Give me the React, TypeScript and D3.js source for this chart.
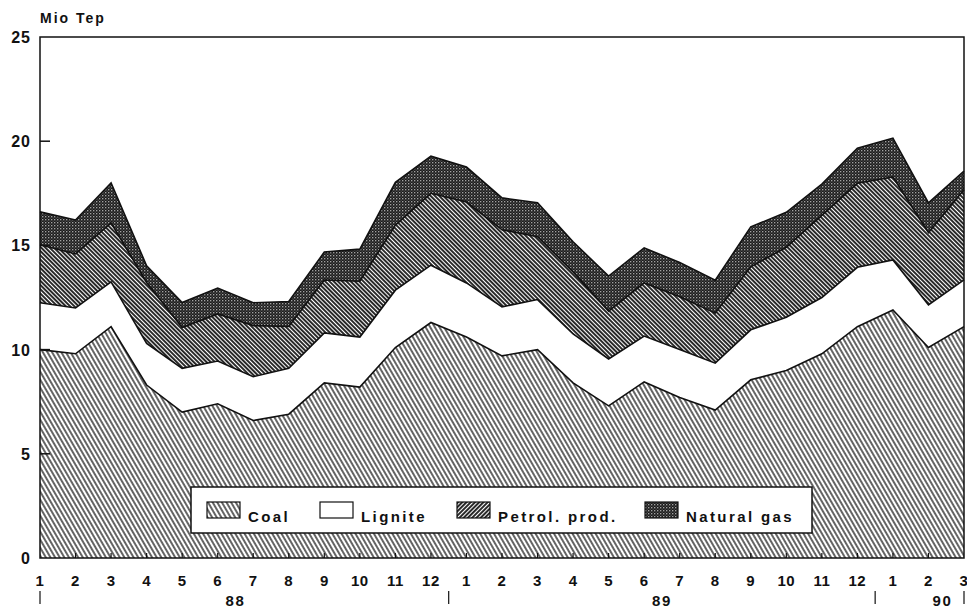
import React from "react";
import * as d3 from "d3";

const months = ["1","2","3","4","5","6","7","8","9","10","11","12","1","2","3","4","5","6","7","8","9","10","11","12","1","2","3"];
const years = [{ label: "88", from: 0, to: 11 }, { label: "89", from: 12, to: 23 }, { label: "90", from: 24, to: 26 }];
const coal = [10.0, 9.8, 11.1, 8.3, 7.0, 7.4, 6.6, 6.9, 8.4, 8.2, 10.1, 11.3, 10.6, 9.7, 10.0, 8.4, 7.3, 8.45, 7.7, 7.1, 8.55, 9.0, 9.8, 11.1, 11.9, 10.1, 11.1];
const lignite = [2.25, 2.2, 2.15, 2.0, 2.1, 2.05, 2.1, 2.2, 2.4, 2.4, 2.75, 2.75, 2.6, 2.35, 2.4, 2.35, 2.25, 2.2, 2.3, 2.25, 2.4, 2.55, 2.7, 2.85, 2.4, 2.05, 2.25];
const petrol = [2.78, 2.59, 2.83, 2.92, 1.96, 2.26, 2.45, 2.01, 2.54, 2.68, 3.12, 3.45, 3.88, 3.7, 3.02, 2.98, 2.3, 2.55, 2.54, 2.4, 3.02, 3.36, 3.94, 4.03, 3.98, 3.46, 4.32];
const gas = [1.58, 1.63, 1.92, 0.8, 1.2, 1.24, 1.1, 1.2, 1.34, 1.54, 2.06, 1.78, 1.68, 1.53, 1.63, 1.44, 1.68, 1.68, 1.64, 1.58, 1.92, 1.68, 1.5, 1.68, 1.87, 1.43, 0.9];
const yTicks = [0, 5, 10, 15, 20, 25];
const seriesKeys = ["coal", "lignite", "petrol", "gas"];
const seriesLabels = ["Coal", "Lignite", "Petrol. prod.", "Natural gas"];

const W = 967, H = 610;
const L = 40, R = 964, T = 37, B = 558;
const FONT = "'Liberation Sans', Arial, sans-serif";

export default function App() {
  const x = d3.scaleLinear().domain([0, months.length - 1]).range([L, R]);
  const y = d3.scaleLinear().domain([0, 25]).range([B, T]);
  const rows = months.map((m, i) => ({ coal: coal[i], lignite: lignite[i], petrol: petrol[i], gas: gas[i] }));
  const stacked = d3.stack<any>().keys(seriesKeys)(rows);
  const area = d3.area<any>().x((d, i) => x(i)).y0((d) => y(d[0])).y1((d) => y(d[1]));
  const line = d3.line<any>().x((d, i) => x(i)).y((d) => y(d[1]));
  const fills = ["url(#coalPat)", "#fff", "url(#petrolPat)", "url(#gasPat)"];
  const legendFills = ["url(#coalPat)", "#fff", "url(#petrolLeg)", "url(#gasPat)"];
  const legendX = [207, 320, 457, 645];

  return (
    <svg width={W} height={H} style={{ display: "block", position: "absolute", left: 0, top: 0, background: "#fff" }}>
      <defs>
        <pattern id="coalPat" patternUnits="userSpaceOnUse" width="4" height="8" patternTransform="rotate(-30)">
          <rect width="4" height="8" fill="#fff" />
          <line x1="1" y1="0" x2="1" y2="8" stroke="#111" strokeWidth="1.3" />
        </pattern>
        <pattern id="petrolPat" patternUnits="userSpaceOnUse" width="3" height="6" patternTransform="rotate(-45)">
          <rect width="3" height="6" fill="#fff" />
          <line x1="1" y1="0" x2="1" y2="6" stroke="#111" strokeWidth="1.8" />
        </pattern>
        <pattern id="petrolLeg" patternUnits="userSpaceOnUse" width="3" height="6" patternTransform="rotate(45)">
          <rect width="3" height="6" fill="#fff" />
          <line x1="1" y1="0" x2="1" y2="6" stroke="#111" strokeWidth="1.8" />
        </pattern>
        <pattern id="gasPat" patternUnits="userSpaceOnUse" width="3" height="3">
          <rect width="3" height="3" fill="#1a1a1a" />
          <rect x="0.2" y="0.2" width="1.1" height="1.1" fill="#eee" />
          <rect x="1.7" y="1.7" width="0.9" height="0.9" fill="#888" />
        </pattern>
      </defs>

      {stacked.map((s, k) => (
        <path key={"a" + k} d={area(s as any) || ""} fill={fills[k]} stroke="none" />
      ))}
      {stacked.map((s, k) => (
        <path key={"l" + k} d={line(s as any) || ""} fill="none" stroke="#111" strokeWidth={1.6} />
      ))}

      <rect x={L} y={T} width={R - L} height={B - T} fill="none" stroke="#111" strokeWidth={1.5} />

      {yTicks.map((t) => (
        <g key={"y" + t}>
          {t > 0 && t < 25 && <line x1={L} x2={L + 10} y1={y(t)} y2={y(t)} stroke="#111" strokeWidth={1.5} />}
          <text x={L - 9} y={y(t) + 6} textAnchor="end" fontFamily={FONT} fontWeight="bold" fontSize={16} letterSpacing={1} fill="#111">{t}</text>
        </g>
      ))}

      {months.map((m, i) => (
        <g key={"x" + i}>
          {i > 0 && i < months.length - 1 && <line x1={x(i)} x2={x(i)} y1={B} y2={B - 5} stroke="#111" strokeWidth={1.2} />}
          <text x={x(i)} y={B + 28} textAnchor="middle" fontFamily={FONT} fontWeight="bold" fontSize={15} letterSpacing={0.5} fill="#111">{m}</text>
        </g>
      ))}

      {years.map((yr) => (
        <text key={yr.label} x={(x(yr.from) + x(yr.to)) / 2 + (yr.label === "90" ? 14 : 0)} y={B + 48} textAnchor="middle" fontFamily={FONT} fontWeight="bold" fontSize={15} letterSpacing={1.5} fill="#111">{yr.label}</text>
      ))}
      {[0, 11.5, 23.5, 26].map((p, i) => (
        <line key={"sep" + i} x1={x(p)} x2={x(p)} y1={B + 33} y2={B + 46} stroke="#111" strokeWidth={1.2} />
      ))}

      <text x={L} y={23} fontFamily={FONT} fontWeight="bold" fontSize={14} letterSpacing={2} fill="#111">Mio Tep</text>

      <rect x={191} y={487} width={621} height={46} fill="#fff" stroke="#111" strokeWidth={1.5} />
      {seriesLabels.map((lab, k) => (
        <g key={"lg" + k}>
          <rect x={legendX[k]} y={502} width={33} height={16} fill={legendFills[k]} stroke="#111" strokeWidth={1.2} />
          <text x={legendX[k] + 41} y={522} fontFamily={FONT} fontWeight="bold" fontSize={15} letterSpacing={2.4} fill="#111">{lab}</text>
        </g>
      ))}
    </svg>
  );
}
